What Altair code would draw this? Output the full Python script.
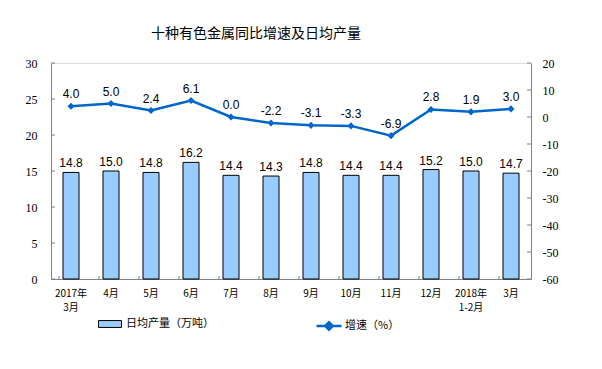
import altair as alt
import pandas as pd

categories = ["2017年\n3月", "4月", "5月", "6月", "7月", "8月", "9月", "10月", "11月", "12月", "2018年\n1-2月", "3月"]
production = [14.8, 15.0, 14.8, 16.2, 14.4, 14.3, 14.8, 14.4, 14.4, 15.2, 15.0, 14.7]
growth = [4.0, 5.0, 2.4, 6.1, 0.0, -2.2, -3.1, -3.3, -6.9, 2.8, 1.9, 3.0]
left_ticks = [0, 5, 10, 15, 20, 25, 30]
right_ticks = [-60, -50, -40, -30, -20, -10, 0, 10, 20]
series_bar = "日均产量（万吨）"
series_line = "增速（%）"

df = pd.DataFrame({"cat": categories, "prod": production, "growth": growth,
                   "s1": series_bar, "s2": series_line})
lt = pd.DataFrame({"t": left_ticks})
rt = pd.DataFrame({"t": right_ticks})

AX = "#808080"
BLUE = "#0066CC"
NUMFONT = "Liberation Serif"
CJK = "Noto Sans CJK SC"
FIXMINUS = "replace(format(datum.{f}, '.1f'), '\u2212', '-')"

xaxis = alt.Axis(labelExpr="split(datum.label, '\\n')", labelAngle=0,
                 labelFont=CJK, labelFontSize=10, labelColor="black",
                 labelPadding=9, labelLineHeight=14, ticks=False, tickSize=0,
                 domainColor=AX, grid=False)
xscale = alt.Scale(paddingInner=0.6, paddingOuter=0.3)
xenc = alt.X("cat:N", sort=categories, title=None, scale=xscale, axis=xaxis)

laxis = alt.Axis(values=left_ticks, orient="left", ticks=False, tickSize=0,
                 labelPadding=14, labelFont=NUMFONT, labelFontSize=12,
                 labelColor="black", domainColor=AX, grid=False)
lscale = alt.Scale(domain=[0, 30], nice=False)
raxis = alt.Axis(values=right_ticks, orient="right", ticks=False, tickSize=0,
                 labelPadding=11, labelFont=NUMFONT, labelFontSize=12,
                 labelExpr="replace(datum.label, '\u2212', '-')",
                 labelColor="black", domainColor=AX, grid=False)
rscale = alt.Scale(domain=[-60, 20], nice=False)

base = alt.Chart(df)

bars = base.mark_bar(stroke="black", strokeWidth=1).encode(
    x=xenc,
    y=alt.Y("prod:Q", title=None, scale=lscale, axis=laxis),
    fill=alt.Fill("s1:N", scale=alt.Scale(range=["#99CCFF"]),
                  legend=alt.Legend(title=None, orient="none", legendX=47, legendY=249,
                                    symbolType="M-1,-0.3L1,-0.3L1,0.3L-1,0.3Z",
                                    symbolSize=529, symbolStrokeColor="black",
                                    symbolStrokeWidth=1, labelFont=CJK, labelFontSize=11,
                                    labelColor="black", labelOffset=4)),
)
bar_text = base.transform_calculate(lbl=FIXMINUS.format(f="prod")).mark_text(
    font="Liberation Sans", fontSize=12, baseline="bottom", dy=-2, color="black").encode(
    x=xenc, y=alt.Y("prod:Q", title=None, scale=lscale, axis=laxis), text="lbl:N")
lticks = alt.Chart(lt).mark_rule(color=AX).encode(
    y=alt.Y("t:Q", title=None, scale=lscale, axis=laxis), x=alt.value(0), x2=alt.value(4))
xticks = base.mark_rule(color=AX, xOffset=-12).encode(
    x=xenc, y=alt.value(216), y2=alt.value(213))

left = alt.layer(bars, bar_text, lticks, xticks)

yr = alt.Y("growth:Q", title=None, scale=rscale, axis=raxis)

line = base.mark_line(strokeWidth=2.5).encode(
    x=xenc, y=yr,
    stroke=alt.Stroke("s2:N", scale=alt.Scale(range=[BLUE]),
                      legend=alt.Legend(title=None, orient="none", legendX=264, legendY=249,
                                        symbolType="M-1,0L1,0M-0.3,0L0,-0.3L0.3,0L0,0.3Z",
                                        symbolSize=625, symbolFillColor=BLUE,
                                        symbolStrokeWidth=2.5, labelFont=CJK, labelFontSize=11,
                                        labelColor="black", labelOffset=2)),
)
points = base.mark_point(shape="diamond", filled=True, color=BLUE, size=50, opacity=1).encode(
    x=xenc, y=yr)
line_text = base.transform_calculate(lbl=FIXMINUS.format(f="growth")).mark_text(
    font="Liberation Sans", fontSize=12, baseline="bottom", dy=-5, color="black").encode(
    x=xenc, y=yr, text="lbl:N")
rticks = alt.Chart(rt).mark_rule(color=AX).encode(
    y=alt.Y("t:Q", title=None, scale=rscale, axis=raxis), x=alt.value(476), x2=alt.value(480))

right = alt.layer(line, points, line_text, rticks)

chart = alt.layer(left, right).resolve_scale(y="independent").properties(
    width=480, height=216,
    autosize=alt.AutoSizeParams(type="none"),
    padding={"left": 43, "top": 55, "right": 63, "bottom": 82},
    title=alt.TitleParams("十种有色金属同比增速及日均产量", font=CJK, fontSize=14,
                          fontWeight="normal", color="black", anchor="middle",
                          frame="group", dx=-35, offset=16),
).configure_view(stroke=None).configure(background="white")

chart.save("out.html", embed_options={"renderer": "svg", "actions": False})
